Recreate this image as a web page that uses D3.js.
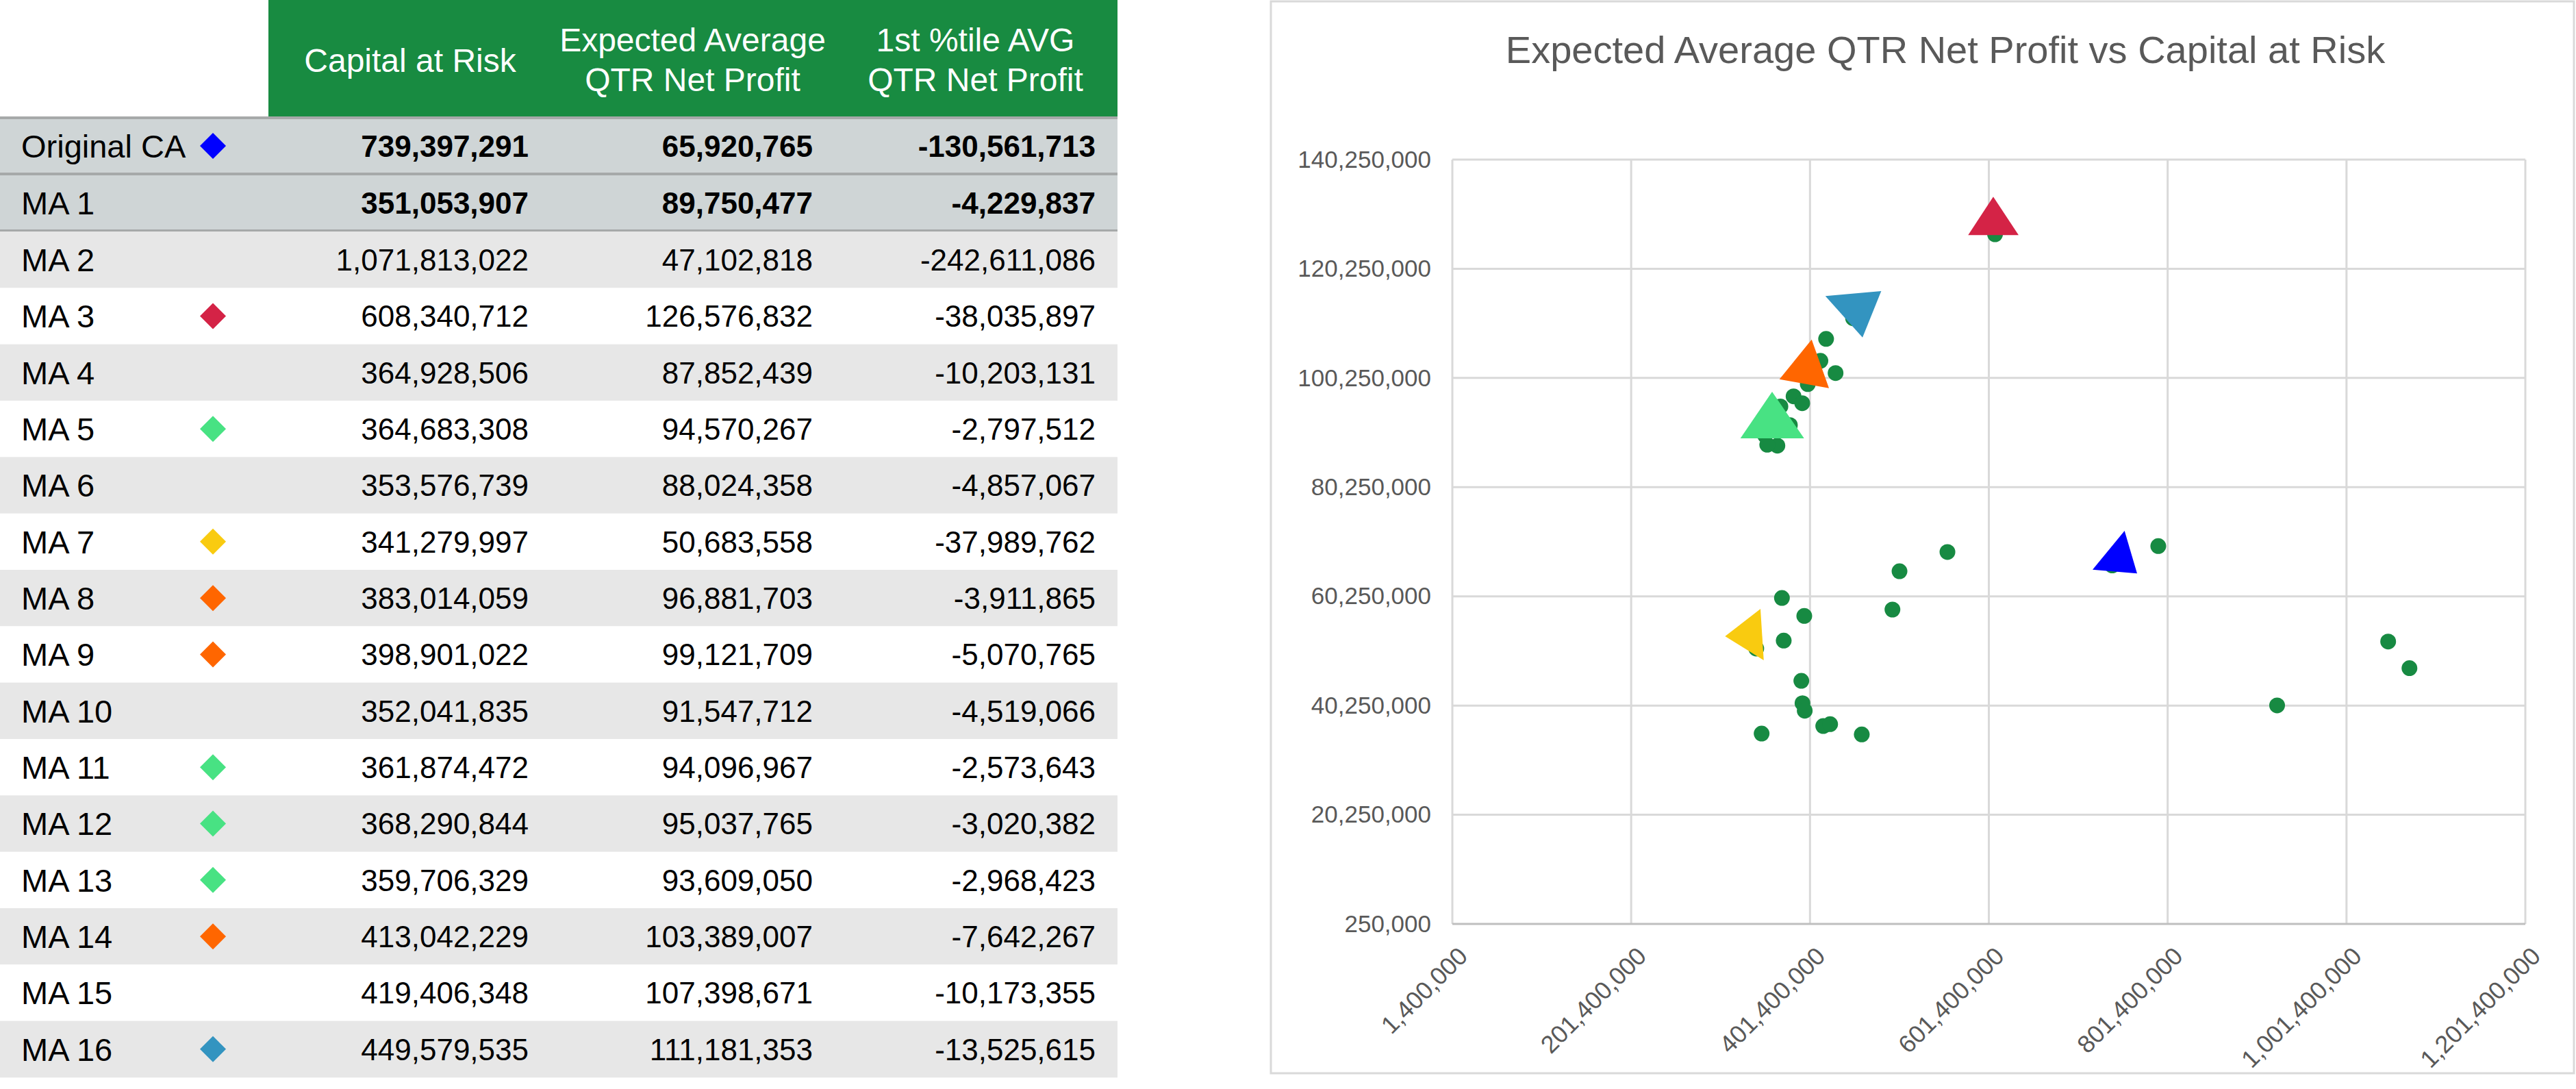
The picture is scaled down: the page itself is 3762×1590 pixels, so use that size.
<!DOCTYPE html>
<html>
<head>
<meta charset="utf-8">
<script src="https://cdn.jsdelivr.net/npm/d3@7"></script>
<style>
  html, body { margin: 0; padding: 0; background: #ffffff; }
  svg { display: block; font-family: "Liberation Sans", Arial, sans-serif; }
</style>
</head>
<body>
<svg id="root" width="3762" height="1590"></svg>
<script>
// ---------------- DATA ----------------
const scenarios = ["Original CA", "MA 1", "MA 2", "MA 3", "MA 4", "MA 5", "MA 6", "MA 7", "MA 8",
  "MA 9", "MA 10", "MA 11", "MA 12", "MA 13", "MA 14", "MA 15", "MA 16"];
const capitalAtRisk = [739397291, 351053907, 1071813022, 608340712, 364928506, 364683308, 353576739,
  341279997, 383014059, 398901022, 352041835, 361874472, 368290844, 359706329, 413042229, 419406348, 449579535];
const expectedAvgProfit = [65920765, 89750477, 47102818, 126576832, 87852439, 94570267, 88024358,
  50683558, 96881703, 99121709, 91547712, 94096967, 95037765, 93609050, 103389007, 107398671, 111181353];
const firstPctileProfit = [-130561713, -4229837, -242611086, -38035897, -10203131, -2797512, -4857067,
  -37989762, -3911865, -5070765, -4519066, -2573643, -3020382, -2968423, -7642267, -10173355, -13525615];
const headers = [["Capital at Risk"], ["Expected Average", "QTR Net Profit"], ["1st %tile AVG", "QTR Net Profit"]];

// additional scenarios plotted in the chart (not listed in the visible table)
const extraCapital = [430000000, 392700000, 378900000, 555100000, 501500000, 370000000, 493600000,
  395000000, 372000000, 391700000, 393000000, 395500000, 416200000, 423900000, 347300000, 459300000,
  790900000, 1048000000, 923800000];
const extraProfit = [101150000, 95630000, 91610000, 68370000, 64850000, 59960000, 57830000,
  56660000, 52150000, 44780000, 40680000, 39300000, 36500000, 36840000, 35120000, 34960000,
  69460000, 51970000, 40270000];

const xTicks = [1400000, 201400000, 401400000, 601400000, 801400000, 1001400000, 1201400000];
const yTicks = [250000, 20250000, 40250000, 60250000, 80250000, 100250000, 120250000, 140250000];
const chartTitle = "Expected Average QTR Net Profit vs Capital at Risk";

// ---------------- STYLES ----------------
const GREEN = "#188B41";
const DOT = "#178A42";
const diamondColors = ["#0000FF", null, null, "#D42346", null, "#48E283", null, "#F9CB10", "#FF6600",
  "#FF6600", null, "#48E283", "#48E283", "#48E283", "#FF6600", null, "#3394C0"];
// highlight triangles anchored on table scenarios (vertex offsets in px)
const callouts = [
  { row: 0, color: "#0000FF", pts: [[18, -50.5], [-28.7, 6.2], [36.3, 11.8]] },
  { row: 3, color: "#D42346", pts: [[-2.6, -54.7], [-39.3, 1.3], [34.4, 1.3]] },
  { row: 16, color: "#3394C0", pts: [[-40.5, -32.4], [41.1, -39.7], [13.8, 28]] },
  { row: 14, color: "#FF6600", pts: [[-12.8, -31.1], [-59.8, 26.9], [12.5, 39.9]] },
  { row: 5, color: "#48E283", pts: [[-7.4, -25.1], [-53.7, 42.9], [39.3, 42.9]] },
  { row: 7, color: "#F9CB10", pts: [[6.2, -58], [-45.5, -18], [10.9, 17]] }
];

const fmt = d3.formatLocale({ decimal: ".", thousands: ",", grouping: [3], currency: ["", ""], minus: "-" }).format(",");
const svg = d3.select("#root");

// ---------------- TABLE ----------------
const tbl = svg.append("g");
const colEdges = [392, 806, 1217, 1632];
const headerH = 170;
const rowH = 82.33;
const rowsLayout = [];
rowsLayout.push({ y0: 174, y1: 252 });
rowsLayout.push({ y0: 256, y1: 335 });
for (let i = 2; i < scenarios.length; i++) {
  const y0 = 338 + (i - 2) * rowH;
  rowsLayout.push({ y0: y0, y1: y0 + rowH });
}

tbl.append("rect").attr("x", colEdges[0]).attr("y", 0).attr("width", colEdges[3] - colEdges[0])
  .attr("height", headerH).attr("fill", GREEN);
headers.forEach((lines, c) => {
  const cx = (colEdges[c] + colEdges[c + 1]) / 2;
  const t = tbl.append("text").attr("text-anchor", "middle").attr("fill", "#ffffff")
    .attr("font-size", 48);
  if (lines.length === 1) {
    t.append("tspan").attr("x", cx).attr("y", 105).text(lines[0]);
  } else {
    t.append("tspan").attr("x", cx).attr("y", 75).text(lines[0]);
    t.append("tspan").attr("x", cx).attr("y", 133).text(lines[1]);
  }
});

[[170, 174], [252, 256], [335, 338]].forEach(s => {
  tbl.append("rect").attr("x", 0).attr("y", s[0]).attr("width", colEdges[3]).attr("height", s[1] - s[0])
    .attr("fill", "#A6A9A9");
});

const rowG = tbl.selectAll("g.row").data(scenarios).enter().append("g").attr("class", "row");
rowG.append("rect")
  .attr("x", 0).attr("width", colEdges[3])
  .attr("y", (d, i) => rowsLayout[i].y0)
  .attr("height", (d, i) => rowsLayout[i].y1 - rowsLayout[i].y0 + (i >= 2 ? 0.4 : 0))
  .attr("fill", (d, i) => i < 2 ? "#CFD5D6" : (i % 2 === 0 ? "#E7E7E7" : "#FFFFFF"));
rowG.append("text")
  .attr("x", 31)
  .attr("y", (d, i) => (rowsLayout[i].y0 + rowsLayout[i].y1) / 2 + 17)
  .attr("font-size", 47).attr("fill", "#000")
  .text(d => d);
rowG.each(function (d, i) {
  const col = diamondColors[i];
  if (!col) return;
  const cy = (rowsLayout[i].y0 + rowsLayout[i].y1) / 2;
  d3.select(this).append("path")
    .attr("d", `M311,${cy - 19}L330,${cy}L311,${cy + 19}L292,${cy}Z`)
    .attr("fill", col);
});
const numCols = [capitalAtRisk, expectedAvgProfit, firstPctileProfit];
const rightEdges = [772, 1187, 1600];
numCols.forEach((arr, c) => {
  rowG.append("text")
    .attr("x", rightEdges[c])
    .attr("y", (d, i) => (rowsLayout[i].y0 + rowsLayout[i].y1) / 2 + 16)
    .attr("text-anchor", "end")
    .attr("font-size", 44)
    .attr("font-weight", (d, i) => i < 2 ? "bold" : "normal")
    .attr("fill", "#000")
    .text((d, i) => fmt(arr[i]));
});

// ---------------- CHART ----------------
const ch = svg.append("g");
ch.append("rect").attr("x", 1856).attr("y", 2).attr("width", 3759 - 1856).attr("height", 1567 - 2)
  .attr("fill", "#fff").attr("stroke", "#D9D9D9").attr("stroke-width", 3);

ch.append("text").attr("x", 2841).attr("y", 92).attr("text-anchor", "middle")
  .attr("font-size", 56).attr("fill", "#595959").text(chartTitle);

const plot = { left: 2121, right: 3688, top: 233, bottom: 1349 };
const x = d3.scaleLinear().domain([xTicks[0], xTicks[xTicks.length - 1]]).range([plot.left, plot.right]);
const y = d3.scaleLinear().domain([yTicks[0], yTicks[yTicks.length - 1]]).range([plot.bottom, plot.top]);

ch.append("g").selectAll("line").data(xTicks).enter().append("line")
  .attr("x1", d => x(d)).attr("x2", d => x(d)).attr("y1", plot.top).attr("y2", plot.bottom)
  .attr("stroke", "#D9D9D9").attr("stroke-width", 3);
ch.append("g").selectAll("line").data(yTicks).enter().append("line")
  .attr("x1", plot.left).attr("x2", plot.right).attr("y1", d => y(d)).attr("y2", d => y(d))
  .attr("stroke", (d, i) => i === 0 ? "#BFBFBF" : "#D9D9D9").attr("stroke-width", 3);

const yAxis = ch.append("g").attr("transform", `translate(${plot.left},0)`)
  .call(d3.axisLeft(y).tickValues(yTicks).tickFormat(fmt).tickSize(0).tickPadding(31));
yAxis.select(".domain").remove();
yAxis.selectAll("text").attr("font-size", 35).attr("fill", "#595959")
  .attr("font-family", "'Liberation Sans', Arial, sans-serif");

const xAxis = ch.append("g").attr("transform", `translate(0,${plot.bottom})`)
  .call(d3.axisBottom(x).tickValues(xTicks).tickFormat(fmt).tickSize(0));
xAxis.select(".domain").remove();
xAxis.selectAll(".tick").each(function (d) {
  d3.select(this).attr("transform", null);
  d3.select(this).select("text")
    .attr("x", 0).attr("y", 0).attr("dy", "0.72em")
    .attr("text-anchor", "end")
    .attr("transform", `translate(${x(d) + 6},${31}) rotate(-45)`)
    .attr("font-size", 36).attr("fill", "#595959")
    .attr("font-family", "'Liberation Sans', Arial, sans-serif");
});

const pts = capitalAtRisk.map((v, i) => ({ cx: v, cy: expectedAvgProfit[i] }))
  .concat(extraCapital.map((v, i) => ({ cx: v, cy: extraProfit[i] })));
ch.append("g").selectAll("circle").data(pts).enter().append("circle")
  .attr("cx", d => x(d.cx)).attr("cy", d => y(d.cy)).attr("r", 11.5).attr("fill", DOT);

ch.append("g").selectAll("path").data(callouts).enter().append("path")
  .attr("d", c => {
    const px = x(capitalAtRisk[c.row]), py = y(expectedAvgProfit[c.row]);
    return "M" + c.pts.map(p => [px + p[0], py + p[1]].join(",")).join("L") + "Z";
  })
  .attr("fill", c => c.color);
</script>
</body>
</html>
